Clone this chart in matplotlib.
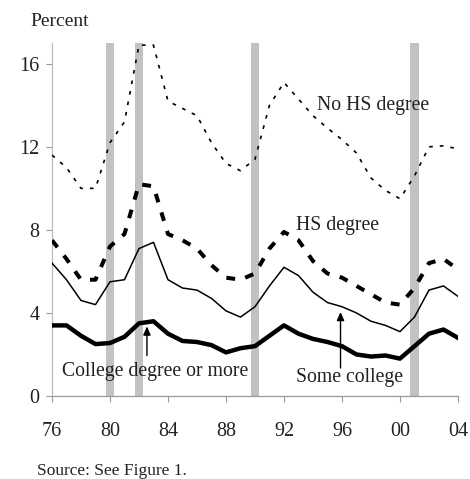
import matplotlib
matplotlib.use("Agg")
import matplotlib.pyplot as plt

# Unemployment rate by educational attainment, 1976-2004 (percent)
years = list(range(1976, 2005))
no_hs = [11.6, 11.0, 10.0, 10.0, 12.2, 13.2, 16.9, 16.9, 14.2, 13.85, 13.5, 12.2,
         11.2, 10.85, 11.4, 14.0, 15.1, 14.3, 13.5, 12.9, 12.35, 11.7, 10.5, 9.9,
         9.5, 10.6, 12.0, 12.05, 11.9]
hs = [7.5, 6.6, 5.6, 5.6, 7.2, 7.8, 10.2, 10.1, 7.8, 7.5, 7.1, 6.3,
      5.7, 5.6, 5.9, 7.1, 7.9, 7.5, 6.5, 5.9, 5.7, 5.3, 4.9, 4.5,
      4.4, 5.2, 6.4, 6.6, 6.1]
some_college = [6.4, 5.6, 4.6, 4.4, 5.5, 5.6, 7.1, 7.4, 5.6, 5.2, 5.1, 4.7,
                4.1, 3.8, 4.3, 5.3, 6.2, 5.8, 5.0, 4.5, 4.3, 4.0, 3.6, 3.4,
                3.1, 3.8, 5.1, 5.3, 4.8]
college = [3.4, 3.4, 2.9, 2.5, 2.55, 2.85, 3.5, 3.6, 3.0, 2.65, 2.6, 2.45,
           2.1, 2.3, 2.4, 2.9, 3.4, 3.0, 2.75, 2.6, 2.4, 2.0, 1.9, 1.95,
           1.8, 2.4, 3.0, 3.2, 2.8]

# Recession markers (centre year)
recessions = [1980, 1982, 1990, 2001]

x_ticks = [1976, 1980, 1984, 1988, 1992, 1996, 2000, 2004]
x_tick_labels = ["76", "80", "84", "88", "92", "96", "00", "04"]
y_ticks = [0, 4, 8, 12, 16]

plt.rcParams["font.family"] = ["Liberation Serif", "DejaVu Serif"]
text_color = "#222222"

fig = plt.figure(figsize=(4.70, 4.79), dpi=100)
ax = fig.add_axes([0.1106, 0.1733, 0.8638, 0.7369])

for r in recessions:
    ax.axvspan(r - 0.3, r + 0.3, color="#c2c2c2", lw=0, zorder=1)

ax.plot(years, no_hs, color="black", lw=1.2, dashes=(2.2, 4.2), zorder=3)
ax.plot(years, hs, color="black", lw=2.9, dashes=(2.2, 2.6), zorder=3)
ax.plot(years, some_college, color="black", lw=1.1, zorder=3)
ax.plot(years, college, color="black", lw=3.2, solid_joinstyle="round", zorder=3)

ax.set_xlim(1976, 2004)
ax.set_ylim(0, 17)
ax.set_xticks(x_ticks)
ax.set_xticklabels(x_tick_labels)
ax.set_yticks(y_ticks)

for side in ("top", "right"):
    ax.spines[side].set_visible(False)
ax.spines["left"].set_color("#bdbdbd")
ax.spines["bottom"].set_color("#9a9a9a")
ax.spines["left"].set_linewidth(0.9)
ax.spines["bottom"].set_linewidth(0.9)
ax.tick_params(axis="both", colors="#9a9a9a", labelcolor=text_color,
               labelsize=14.5, length=4, width=0.8, direction="out")
ax.tick_params(axis="x", pad=15)
ax.tick_params(axis="y", pad=5)

fs = 14.2
ax.text(1994.3, 14.0, "No HS degree", fontsize=fs, color=text_color,
        ha="left", va="center", zorder=4)
ax.text(1992.8, 8.2, "HS degree", fontsize=fs, color=text_color,
        ha="left", va="center", zorder=4)
ax.text(1976.7, 1.2, "College degree or more", fontsize=fs, color=text_color,
        ha="left", va="center", zorder=4)
ax.text(1992.8, 0.9, "Some college", fontsize=fs, color=text_color,
        ha="left", va="center", zorder=4)

arrow = dict(arrowstyle="-|>,head_length=0.5,head_width=0.22", color="black",
             lw=1.0, shrinkA=0, shrinkB=0)
ax.annotate("", xy=(1982.55, 3.35), xytext=(1982.55, 1.95), arrowprops=arrow,
            zorder=4)
ax.annotate("", xy=(1995.9, 4.05), xytext=(1995.9, 1.35), arrowprops=arrow,
            zorder=4)

fig.text(30 / 470, 1 - 22 / 479, "Percent", fontsize=14, color=text_color,
         ha="left", va="center")
fig.text(37 / 470, 1 - 471 / 479, "Source: See Figure 1.", fontsize=12.5,
         color=text_color, ha="left", va="center")

fig.savefig("out.png", dpi=100)
